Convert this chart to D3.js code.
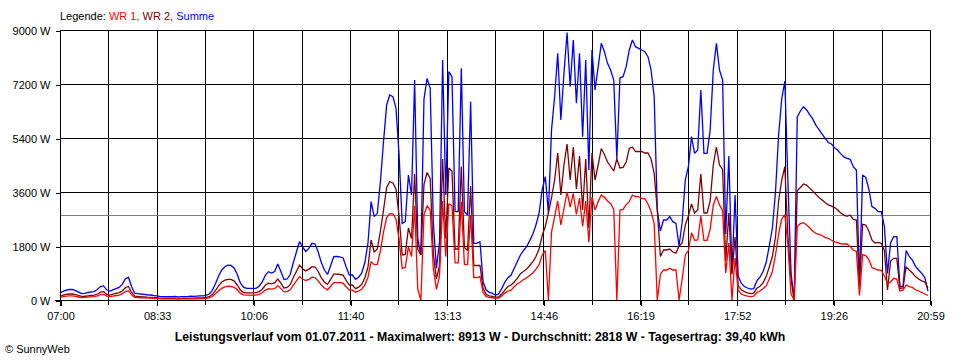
<!DOCTYPE html>
<html><head><meta charset="utf-8">
<script src="https://cdn.jsdelivr.net/npm/d3@7"></script>
<style>
body{margin:0;background:#fff;}
svg{display:block;font-family:"Liberation Sans",Arial,sans-serif;}
</style></head><body><svg id="chart" width="960" height="360"></svg>
<script>
// ---- data ----
const startTime = "07:00";
const endTime = "20:59";
const sampleMinutes = 3; // one reading every 3 minutes from 07:00
const xTickLabels = ["07:00","08:33","10:06","11:40","13:13","14:46","16:19","17:52","19:26","20:59"];
const yTicks = [0,1800,3600,5400,7200,9000];
const averageW = 2818;
const seriesNames = ["WR 1","WR 2","Summe"];
const legendLabel = "Legende:";
const titleText = "Leistungsverlauf vom 01.07.2011 - Maximalwert: 8913 W - Durchschnitt: 2818 W - Tagesertrag: 39,40 kWh";
const creditText = "\u00A9 SunnyWeb";

const summe = [
230,290,330,350,350,310,260,210,220,250,
270,280,350,450,470,340,290,340,380,420,
520,700,760,450,230,210,200,190,175,167,
150,140,120,115,111,115,111,120,105,110,
115,110,125,120,130,135,140,160,200,330,
550,800,1000,1110,1160,1150,1060,850,560,430,
389,390,389,390,460,600,820,944,900,950,
1200,950,680,700,850,1250,1600,1950,1760,1620,
1720,1889,1867,1600,1250,1000,850,1150,1444,1450,
1440,1400,1100,833,833,690,760,900,1250,1900,
3278,2778,2889,3944,5278,6500,6833,6778,6400,4833,
2556,2611,4167,3500,7333,2056,1500,6689,7389,7056,
2611,1056,1944,8000,3500,7611,7444,2944,2944,7722,
2944,2833,6611,1889,1889,1944,611,333,256,222,
167,200,380,600,744,833,1056,1278,1500,1650,
1780,1980,2200,2500,2889,3667,4111,2900,5667,6778,
8222,6000,7556,8913,7111,8667,6556,8222,5444,8000,
4333,8333,7000,7778,8556,8278,7889,7667,7333,4700,
7400,7444,7778,8333,8667,8444,8389,8333,8278,8111,
7667,6778,3000,2300,2667,2667,2778,2611,2556,1800,
2600,4000,4444,5444,4889,5000,7000,4889,4889,5667,
7667,8556,7667,7333,2200,4800,900,3500,800,560,
450,400,360,380,640,760,950,1250,1800,2400,
3600,5500,6700,7300,3900,900,0,6100,6300,6444,
6333,6180,6030,5820,5680,5530,5380,5250,5200,5070,
4990,4870,4770,4720,4689,4444,4333,600,4167,4090,
3700,3111,3056,2944,2944,2450,889,1900,2111,2111,
450,450,1650,1450,1330,1120,1000,890,750,300
];
const wr2 = [
120,160,190,200,200,180,150,120,125,140,
150,160,200,260,280,190,165,195,220,245,
300,410,450,260,130,120,110,105,95,90,
80,75,65,60,58,60,58,62,55,57,
60,57,65,62,68,70,75,88,110,190,
320,470,600,660,690,685,630,500,330,250,
240,240,240,245,280,360,490,560,540,570,
700,560,400,420,510,750,950,1160,1040,970,
1030,1110,1100,950,740,600,520,690,860,860,
850,830,650,500,500,380,430,520,740,1100,
2000,1600,1700,2300,3000,3750,3950,3900,3700,2800,
1500,1520,2400,2050,4200,1700,1500,3850,4250,4050,
1550,700,1150,4700,2050,4400,4300,1700,1700,4450,
1750,1650,3800,1150,1150,1150,400,180,140,120,
90,100,200,330,450,500,600,720,880,950,
1030,1150,1280,1450,1700,2150,2450,2900,3400,4000,
4900,3500,4500,5200,4000,5100,3700,4800,3000,4700,
2400,4900,4000,4500,5050,4850,4600,4450,4300,4700,
4400,4420,4600,5050,5100,4950,4950,4950,4900,4900,
4700,4222,3000,1450,1667,1667,1700,1600,1560,1800,
1900,2500,2800,3200,2900,3000,4200,2900,2900,3300,
4500,5100,4500,4350,1300,2900,850,2100,480,340,
280,240,210,230,390,460,570,780,1100,1450,
2100,3300,4000,4444,2100,700,0,3650,3750,3867,
3833,3730,3630,3520,3420,3330,3240,3170,3130,3080,
3000,2900,2830,2790,2833,2689,2667,450,2520,2500,
2300,2000,1900,1920,1890,1650,333,1300,1389,1389,
380,400,1111,1000,900,780,700,640,600,400
];
const wr1 = [
90,110,130,140,140,120,100,80,85,95,
105,110,135,180,190,130,110,130,150,165,
210,280,310,170,90,80,75,70,65,60,
55,50,40,38,35,38,35,40,33,35,
38,35,40,38,42,45,48,55,75,125,
210,310,390,440,460,455,420,340,220,170,
160,160,160,165,190,240,330,380,360,380,
480,380,270,280,340,500,640,780,700,650,
690,760,750,640,500,400,340,460,580,580,
580,560,440,330,330,260,300,360,500,760,
1280,1180,1190,1640,2270,2750,2880,2870,2700,2030,
1056,1090,1770,1450,3130,360,0,2840,3140,3000,
1060,356,800,3300,1450,3210,3140,1240,1240,3270,
1190,1180,2810,750,750,780,250,110,90,75,
60,60,130,230,300,330,440,540,600,680,
740,820,900,1030,1180,1500,1650,0,2260,2780,
3300,2500,3050,3600,3100,3550,2850,3400,2450,3300,
1930,3430,3000,3280,3500,3430,3300,3210,3030,0,
3000,3020,3180,3280,3500,3450,3440,3380,3380,3200,
2950,2550,0,850,1000,1000,1060,1000,1000,0,
700,1500,1650,2240,1990,2000,2800,1990,1990,2360,
3170,3450,3170,2980,900,1900,0,1400,320,200,
150,130,115,130,250,300,380,470,700,950,
1500,2200,2700,2850,1800,200,0,2450,2550,2578,
2500,2400,2300,2220,2190,2150,2080,2056,1990,1940,
1910,1870,1867,1870,1778,1667,1620,150,1510,1480,
1350,1080,1040,1000,990,800,556,600,722,700,
300,330,500,444,420,340,300,250,200,150
];

// ---- chart ----
const svg = d3.select("#chart");
const plotL = 60, plotR = 930, plotT = 30, plotB = 300;
const toMin = s => { const [h,m] = s.split(":").map(Number); return h*60+m; };
const span = toMin(endTime) - toMin(startTime);
const x = d3.scaleLinear().domain([0, span]).range([plotL, plotR]);
const y = d3.scaleLinear().domain([0, 9000]).range([plotB, plotT]);
const xLab = d3.scalePoint().domain(xTickLabels).range([plotL, plotR]);
const gridCount = (xTickLabels.length - 1) * 2;
const gridMinutes = d3.range(gridCount + 1).map(k => span * k / gridCount);

const g = svg.append("g").attr("shape-rendering", "crispEdges");
// horizontal grid
g.selectAll("line.h").data(yTicks).join("line")
  .attr("x1", plotL).attr("x2", plotR)
  .attr("y1", d => Math.round(y(d)) + 0.5).attr("y2", d => Math.round(y(d)) + 0.5)
  .attr("stroke", "#000");
// vertical grid
g.selectAll("line.v").data(gridMinutes).join("line")
  .attr("x1", d => Math.round(x(d)) + 0.5).attr("x2", d => Math.round(x(d)) + 0.5)
  .attr("y1", plotT).attr("y2", plotB + 5)
  .attr("stroke", "#000");
// average line
g.append("line")
  .attr("x1", plotL + 1).attr("x2", plotR)
  .attr("y1", Math.round(y(averageW)) + 0.5).attr("y2", Math.round(y(averageW)) + 0.5)
  .attr("stroke", "#808080");

// y axis
const yAxis = svg.append("g").attr("transform", `translate(${plotL + 0.5},0.5)`)
  .call(d3.axisLeft(y).tickValues(yTicks).tickSize(5).tickPadding(5).tickFormat(d => d + " W"));
yAxis.select(".domain").remove();
yAxis.selectAll("line").attr("shape-rendering", "crispEdges");
yAxis.selectAll("text").attr("font-size", 11).attr("font-family", "Liberation Sans, Arial, sans-serif").attr("fill", "#000");

// x axis labels
const xAxis = svg.append("g").attr("transform", `translate(0.5,${plotB + 0.5})`)
  .call(d3.axisBottom(xLab).tickSize(5).tickPadding(7));
xAxis.select(".domain").remove();
xAxis.selectAll("line").attr("shape-rendering", "crispEdges");
xAxis.selectAll("text").attr("font-size", 11).attr("font-family", "Liberation Sans, Arial, sans-serif").attr("fill", "#000");

// lines
const line = d3.line()
  .x((d, i) => x(i * sampleMinutes))
  .y(d => y(d))
  .curve(d3.curveLinear);
const series = [
  {name: seriesNames[2], values: summe, color: "#0000ff"},
  {name: seriesNames[1], values: wr2, color: "#800000"},
  {name: seriesNames[0], values: wr1, color: "#ff0000"}
];
svg.append("g").selectAll("path").data(series).join("path")
  .attr("d", d => line(d.values))
  .attr("fill", "none")
  .attr("stroke", d => d.color)
  .attr("stroke-width", 1.3)
  .attr("stroke-linejoin", "miter")
  .attr("stroke-miterlimit", 2);

// axis frame lines
const frame = svg.append("g").attr("shape-rendering", "crispEdges").attr("stroke", "#000");
frame.append("line").attr("x1", plotL + 0.5).attr("x2", plotL + 0.5).attr("y1", plotT).attr("y2", plotB + 6);
frame.append("line").attr("x1", plotL - 5).attr("x2", plotR + 1).attr("y1", plotB + 0.5).attr("y2", plotB + 0.5);

// legend
const leg = svg.append("text").attr("x", plotL).attr("y", 20).attr("font-size", 11).attr("fill", "#000");
leg.append("tspan").text(legendLabel + " ");
leg.append("tspan").attr("fill", "#ff0000").text(seriesNames[0] + ", ");
leg.append("tspan").attr("fill", "#800000").text(seriesNames[1] + ", ");
leg.append("tspan").attr("fill", "#0000ff").text(seriesNames[2]);

// title
svg.append("text").attr("x", 480).attr("y", 341).attr("text-anchor", "middle")
  .attr("font-size", 12.3).attr("font-weight", "bold").attr("fill", "#000").text(titleText);
// credit
svg.append("text").attr("x", 5).attr("y", 353).attr("font-size", 11).attr("fill", "#000").text(creditText);
</script></body></html>
